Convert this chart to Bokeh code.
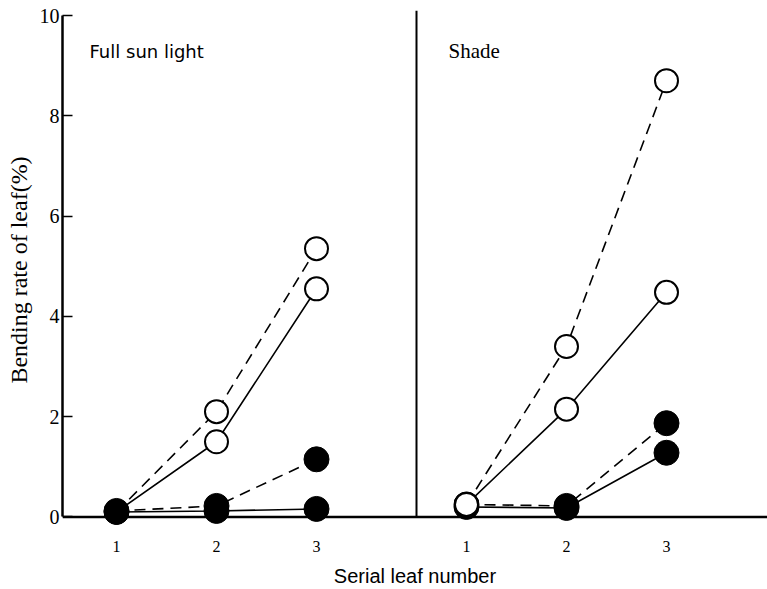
from bokeh.plotting import figure
from bokeh.models import FixedTicker, Span
from bokeh.core.properties import value
from bokeh.embed import file_html
from bokeh.resources import INLINE

# ---- data ----
leaf_numbers = [1, 2, 3]
tick_labels = ["1", "2", "3"]
panel_names = ["Full sun light", "Shade"]

# Full sun light
sun_open_dashed = [0.10, 2.10, 5.35]
sun_open_solid = [0.10, 1.50, 4.55]
sun_filled_dashed = [0.12, 0.22, 1.15]
sun_filled_solid = [0.10, 0.12, 0.16]

# Shade
shade_open_dashed = [0.25, 3.40, 8.70]
shade_open_solid = [0.25, 2.15, 4.48]
shade_filled_dashed = [0.25, 0.22, 1.87]
shade_filled_solid = [0.20, 0.18, 1.28]

y_ticks = [0, 2, 4, 6, 8, 10]

# panel offsets along a shared x axis
panel_offset = [0.0, 3.5]
divider_x = 4.0

p = figure(width=767, height=589, output_backend="svg", toolbar_location=None,
           x_range=(0.46, 7.51), y_range=(-0.25, 10.1),
           min_border_left=62, min_border_right=0, min_border_top=10, min_border_bottom=57)
p.outline_line_color = None
p.grid.visible = False
p.background_fill_color = "white"
p.border_fill_color = "white"

xs_sun = [x + panel_offset[0] for x in leaf_numbers]
xs_shade = [x + panel_offset[1] for x in leaf_numbers]

# x axis
p.xaxis.ticker = FixedTicker(ticks=xs_sun + xs_shade)
p.xaxis.major_label_overrides = {x: t for x, t in zip(xs_sun + xs_shade, tick_labels + tick_labels)}
p.xaxis.axis_line_color = None
p.xaxis.major_tick_line_color = None
p.xaxis.minor_tick_line_color = None
p.xaxis.major_label_standoff = 5
p.xaxis.major_label_text_font = "Liberation Serif"
p.xaxis.major_label_text_font_size = "16px"
p.xaxis.major_label_text_color = "black"
p.xaxis.axis_label = "Serial leaf number"
p.xaxis.axis_label_text_font = "Liberation Sans"
p.xaxis.axis_label_text_font_style = "normal"
p.xaxis.axis_label_text_font_size = "20px"
p.xaxis.axis_label_standoff = 10
p.xaxis.axis_label_text_color = "black"

# y axis
p.yaxis.ticker = FixedTicker(ticks=y_ticks)
p.yaxis.bounds = (0, 10)
p.yaxis.axis_line_width = 2.5
p.yaxis.axis_line_color = "black"
p.yaxis.major_tick_in = 10
p.yaxis.major_tick_out = 0
p.yaxis.major_tick_line_width = 1.5
p.yaxis.minor_tick_line_color = None
p.yaxis.major_label_standoff = 3
p.yaxis.major_label_text_font = "Liberation Serif"
p.yaxis.major_label_text_font_size = "20px"
p.yaxis.major_label_text_color = "black"
p.yaxis.axis_label = "Bending rate of leaf(%)"
p.yaxis.axis_label_text_font = "Liberation Serif"
p.yaxis.axis_label_text_font_style = "normal"
p.yaxis.axis_label_text_font_size = "24px"
p.yaxis.axis_label_standoff = 5
p.yaxis.axis_label_text_color = "black"

# baseline and divider
p.add_layout(Span(location=0, dimension="width", line_color="black", line_width=2.5))
p.segment(x0=[divider_x], y0=[0], x1=[divider_x], y1=[10.1], line_color="black", line_width=2)

dash = "11 7"
lw = 1.6
osize = 23
fsize = 25

# lines
for xs, od, os_, fd, fs in [(xs_sun, sun_open_dashed, sun_open_solid, sun_filled_dashed, sun_filled_solid),
                             (xs_shade, shade_open_dashed, shade_open_solid, shade_filled_dashed, shade_filled_solid)]:
    p.line(xs, od, line_color="black", line_width=lw, line_dash=dash)
    p.line(xs, os_, line_color="black", line_width=lw)
    p.line(xs, fd, line_color="black", line_width=lw, line_dash=dash)
    p.line(xs, fs, line_color="black", line_width=lw)

# markers: full sun (filled on top)
for ys in (sun_open_dashed, sun_open_solid):
    p.scatter(xs_sun, ys, size=osize, fill_color="white", line_color="black", line_width=2)
for ys in (sun_filled_solid, sun_filled_dashed):
    p.scatter(xs_sun, ys, size=fsize, fill_color="black", line_color="black")

# markers: shade (open on top)
for ys in (shade_filled_solid, shade_filled_dashed):
    p.scatter(xs_shade, ys, size=fsize, fill_color="black", line_color="black")
for ys in (shade_open_dashed, shade_open_solid):
    p.scatter(xs_shade, ys, size=osize, fill_color="white", line_color="black", line_width=2)

# panel labels
p.text(x=[0.73], y=[9.07], text=[panel_names[0]], text_font=value("DejaVu Sans"),
       text_font_size="18px", text_color="black", text_baseline="bottom")
p.text(x=[4.32], y=[9.05], text=[panel_names[1]], text_font=value("Liberation Serif"),
       text_font_size="21px", text_color="black", text_baseline="bottom")

open("out.html", "w").write(file_html(p, INLINE))
